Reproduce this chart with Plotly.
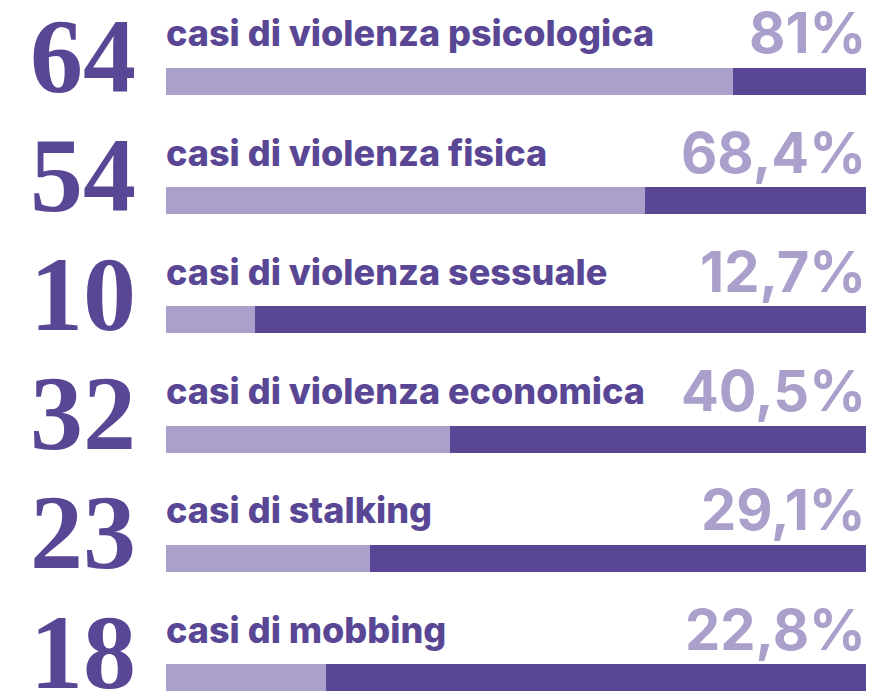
import plotly.graph_objects as go

counts = ["64", "54", "10", "32", "23", "18"]
labels = ["casi di violenza psicologica", "casi di violenza fisica", "casi di violenza sessuale",
          "casi di violenza economica", "casi di stalking", "casi di mobbing"]
pct_values = [81, 68.4, 12.7, 40.5, 29.1, 22.8]
pct_labels = ["81%", "68,4%", "12,7%", "40,5%", "29,1%", "22,8%"]

DARK = "#594795"
LIGHT = "#ab9fcc"

W, H = 870, 691
X0, X1 = 166, 866          # pixel span of 0..100
scale = (X1 - X0) / 100.0
row_top0, step, bar_h = 68, 119.2, 27

ys = [row_top0 + step * i + bar_h / 2 for i in range(len(labels))]

fig = go.Figure()
fig.add_trace(go.Bar(y=ys, x=[100] * len(ys), base=[0] * len(ys), orientation="h",
                     width=bar_h, marker=dict(color=DARK, line=dict(width=0)),
                     hoverinfo="skip", showlegend=False))
fig.add_trace(go.Bar(y=ys, x=pct_values, base=[0] * len(ys), orientation="h",
                     width=bar_h, marker=dict(color=LIGHT, line=dict(width=0)),
                     hoverinfo="skip", showlegend=False))

ann = []
for i, y in enumerate(ys):
    top = y - bar_h / 2
    bottom = y + bar_h / 2
    ann.append(dict(x=(83 - X0) / scale, y=bottom - 39, text=counts[i], showarrow=False,
                    xanchor="center", yanchor="middle",
                    font=dict(family="Liberation Serif", size=106, color=DARK, weight=700)))
    ann.append(dict(x=0, y=top - 10.5, text=labels[i], showarrow=False,
                    xanchor="left", yanchor="bottom", xshift=-2,
                    font=dict(family="Inter", size=36, color=DARK, weight=800)))
    ann.append(dict(x=100, y=top + 1.5, text=pct_labels[i], showarrow=False,
                    xanchor="right", yanchor="bottom", xshift=2,
                    font=dict(family="Inter", size=56, color=LIGHT, weight=700)))

fig.update_layout(
    width=W, height=H, margin=dict(l=0, r=0, t=0, b=0),
    paper_bgcolor="white", plot_bgcolor="white",
    barmode="overlay", bargap=0,
    xaxis=dict(range=[-X0 / scale, (W - X0) / scale], visible=False, fixedrange=True),
    yaxis=dict(range=[H, 0], visible=False, fixedrange=True),
    annotations=ann,
)

fig.write_html("out.html", config={"displayModeBar": False, "staticPlot": True})
with open("out.html", "r", encoding="utf-8") as f:
    html = f.read()
html = html.replace("<head>", "<head><style>html,body{margin:0;padding:0;overflow:hidden;}</style>", 1)
with open("out.html", "w", encoding="utf-8") as f:
    f.write(html)
